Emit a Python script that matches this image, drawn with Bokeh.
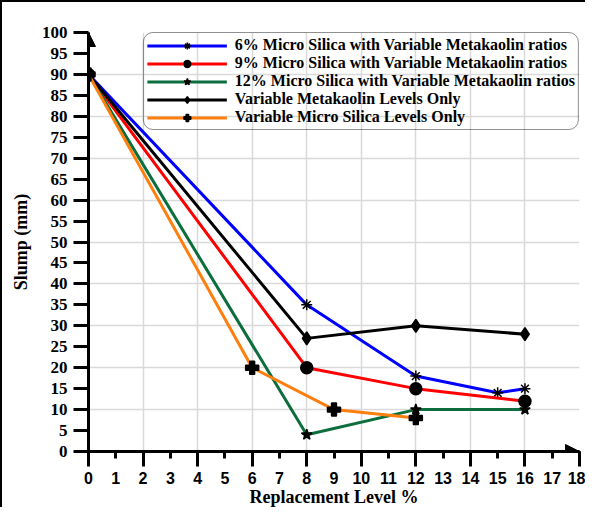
from bokeh.plotting import figure
from bokeh.models import Range1d, FixedTicker, Legend, LegendItem, Arrow, NormalHead
from bokeh.embed import file_html
from bokeh.resources import INLINE

# ---- data ----
x_ms6 = [0, 8, 12, 15, 16]
slump_ms6 = [90, 35, 18, 14, 15]
x_ms9 = [0, 8, 12, 16]
slump_ms9 = [90, 20, 15, 12]
x_ms12 = [0, 8, 12, 16]
slump_ms12 = [90, 4, 10, 10]
x_mk = [0, 8, 12, 16]
slump_mk = [90, 27, 30, 28]
x_ms = [0, 6, 9, 12]
slump_ms = [90, 20, 10, 8]

labels = [
    "6% Micro Silica with Variable Metakaolin ratios",
    "9% Micro Silica with Variable Metakaolin ratios",
    "12% Micro Silica with Variable Metakaolin ratios",
    "Variable Metakaolin Levels Only",
    "Variable Micro Silica Levels Only",
]
x_ticks = list(range(0, 19))
y_ticks = list(range(0, 101, 5))

SERIF = "Liberation Serif"
SANS = "Liberation Sans"

p = figure(width=585, height=507, x_range=Range1d(0, 18), y_range=Range1d(0, 100),
           output_backend="svg", toolbar_location=None,
           min_border_left=86, min_border_right=8, min_border_top=30, min_border_bottom=52)
p.outline_line_color = None
p.background_fill_color = "white"
p.border_fill_color = "white"
p.styles = {"border-left": "2px solid black", "border-top": "2px solid black"}

# grid
p.xgrid.ticker = FixedTicker(ticks=x_ticks[::2])
p.ygrid.ticker = FixedTicker(ticks=list(range(0, 101, 10)))
for g in (p.xgrid, p.ygrid):
    g.grid_line_color = "#d9d9d9"
    g.grid_line_width = 1.5

# x axis
xa = p.xaxis[0]
xa.ticker = FixedTicker(ticks=x_ticks, minor_ticks=x_ticks[::2])
xa.axis_line_width = 3
xa.major_tick_line_width = 3
xa.minor_tick_line_width = 3
xa.major_tick_out = 7
xa.major_tick_in = 0
xa.minor_tick_out = 15
xa.minor_tick_in = 0
xa.major_label_standoff = 5
xa.major_label_text_font = SANS
xa.major_label_text_font_style = "bold"
xa.major_label_text_font_size = "16px"
xa.major_label_text_color = "black"
xa.axis_label = "Replacement Level %"
xa.axis_label_text_font = SERIF
xa.axis_label_text_font_style = "bold"
xa.axis_label_text_font_size = "18px"
xa.axis_label_text_color = "black"
xa.axis_label_standoff = 0

# y axis
ya = p.yaxis[0]
ya.ticker = FixedTicker(ticks=y_ticks, minor_ticks=[])
ya.axis_line_width = 3
ya.major_tick_line_width = 3
ya.major_tick_out = 15
ya.major_tick_in = 0
ya.minor_tick_line_color = None
ya.major_label_standoff = 6
ya.major_label_text_font = SERIF
ya.major_label_text_font_style = "bold"
ya.major_label_text_font_size = "17px"
ya.major_label_text_color = "black"
ya.axis_label = "Slump (mm)"
ya.axis_label_text_font = SERIF
ya.axis_label_text_font_style = "bold"
ya.axis_label_text_font_size = "18px"
ya.axis_label_text_color = "black"
ya.axis_label_standoff = 8

series = [
    (x_ms6, slump_ms6, "#0000ff", "asterisk", 11),
    (x_ms9, slump_ms9, "#ff0000", "circle", 12),
    (x_ms12, slump_ms12, "#0b6e3c", "star", 11),
    (x_mk, slump_mk, "#000000", "diamond", 13),
    (x_ms, slump_ms, "#ff7f0e", "plus", 13),
]

items = []
for (xs, ys, col, mk, sz), lab in zip(series, labels):
    ln = p.line(xs, ys, line_color=col, line_width=3)
    sc = p.scatter(xs, ys, marker=mk, size=sz, fill_color="black", line_color="black",
                   line_width=1.5)
    items.append(LegendItem(label=lab, renderers=[ln, sc]))

leg = Legend(items=items, location="top_right")
leg.label_text_font = SERIF
leg.label_text_font_style = "bold"
leg.label_text_font_size = "16px"
leg.label_text_color = "black"
leg.label_height = 17
leg.glyph_height = 17
leg.glyph_width = 80
leg.label_standoff = 8
leg.spacing = 0
leg.padding = 3
leg.margin = 0
leg.border_line_color = "#222222"
leg.border_line_width = 1.5
leg.background_fill_alpha = 0
leg.border_radius = 10
p.add_layout(leg)

# axis arrows
p.add_layout(Arrow(end=NormalHead(size=14, fill_color="black", line_color="black"),
                   x_start=0, y_start=96, x_end=0, y_end=100, line_width=3))
p.add_layout(Arrow(end=NormalHead(size=14, fill_color="black", line_color="black"),
                   x_start=17.4, y_start=0, x_end=18, y_end=0, line_width=3))

open("out.html", "w").write(file_html(p, INLINE))
